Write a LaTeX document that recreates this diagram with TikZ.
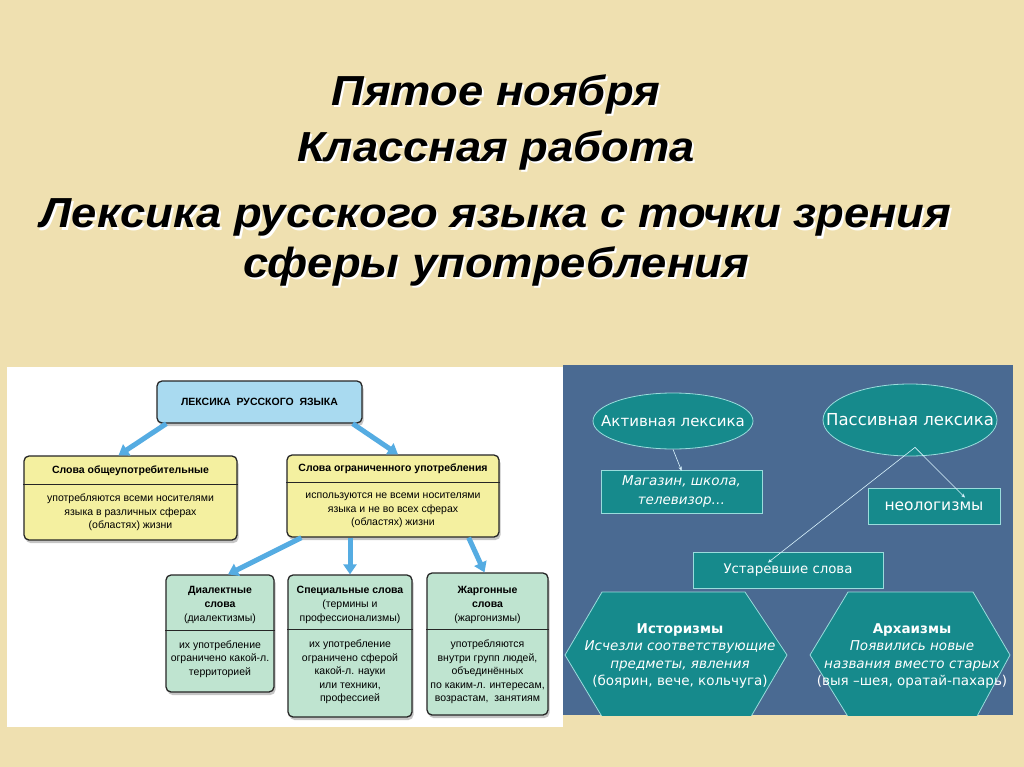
\documentclass[tikz,border=0pt]{standalone}
\usepackage{fontspec}
\setmainfont{Liberation Sans}
\newfontfamily\tfont[FakeStretch=1.08]{Liberation Sans}
\newfontfamily\rfont{DejaVu Sans}
\usetikzlibrary{arrows.meta,shapes.geometric,shadows,calc}
\definecolor{bgc}{HTML}{EFE0B0}
\definecolor{panelblue}{HTML}{4A6A92}
\definecolor{tealc}{HTML}{168A8C}
\definecolor{tealb}{HTML}{9ADCDC}
\definecolor{lblue}{HTML}{A9DAF0}
\definecolor{lyellow}{HTML}{F4F0A0}
\definecolor{lgreen}{HTML}{BFE4D0}
\definecolor{arrowblue}{HTML}{55ACE2}
\tikzset{
  titletext/.style={font=\tfont\bfseries\itshape\fontsize{42}{50}\selectfont, anchor=base, inner sep=0},
  lbox/.style={draw=black!85, line width=1.3pt, rounded corners=5pt, inner sep=0,
     drop shadow={opacity=0.45, shadow xshift=1.5pt, shadow yshift=-3pt}},
  ltext/.style={font=\fontsize{10.5}{13.6}\selectfont, align=center, inner sep=0},
  lhead/.style={font=\bfseries\fontsize{10.5}{13.6}\selectfont, align=center, inner sep=0},
  divline/.style={draw=black!85, line width=0.9pt},
  larrow/.style={draw=arrowblue, line width=5pt, -{Triangle[width=13pt,length=10pt]}},
  tealshape/.style={fill=tealc, draw=tealb, line width=0.8pt},
  rtext/.style={text=white, font=\rfont\fontsize{13.5}{17.5}\selectfont, align=center, inner sep=0},
  rarrow/.style={draw=white!85!cyan, line width=0.6pt, -{Stealth[length=4pt,width=3.5pt]}}
}
\begin{document}
\begin{tikzpicture}[x=1pt,y=-1pt]
\useasboundingbox (0,0) rectangle (1024,767);
\fill[bgc] (0,0) rectangle (1024,767);
% title
\node[titletext, text=white] (t1s) at (498,108) {Пятое ноября};
\node[titletext] (t1) at (496,106) {Пятое ноября};
\node[titletext, text=white] (t2s) at (498,164) {Классная работа};
\node[titletext] (t2) at (496,162) {Классная работа};
\node[titletext, text=white] (t3s) at (498,230) {Лексика русского языка с точки зрения};
\node[titletext] (t3) at (496,228) {Лексика русского языка с точки зрения};
\node[titletext, text=white] (t4s) at (498,279) {сферы употребления};
\node[titletext] (t4) at (496,277) {сферы употребления};
% panels
\fill[white] (7,367) rectangle (563,727);
\fill[panelblue] (563,365) rectangle (1013,715);
% left diagram boxes
\node[lbox, fill=lblue, minimum width=205pt, minimum height=42pt] (top) at (259.5,402) {};
\node[lhead] (topt) at (top.center) {ЛЕКСИКА\ \ РУССКОГО\ \ ЯЗЫКА};
\node[lbox, fill=lyellow, minimum width=213pt, minimum height=84pt] (gen) at (130.5,498) {};
\node[lbox, fill=lyellow, minimum width=212pt, minimum height=82pt] (lim) at (393,496) {};
\node[lbox, fill=lgreen, minimum width=108pt, minimum height=117pt] (dial) at (220,633.5) {};
\node[lbox, fill=lgreen, minimum width=124pt, minimum height=142pt] (spec) at (350,646) {};
\node[lbox, fill=lgreen, minimum width=121pt, minimum height=142pt] (jarg) at (487.5,644) {};
% dividers
\draw[divline] ($(gen.north west)+(0,29)$) -- ($(gen.north east)+(0,29)$);
\draw[divline] ($(lim.north west)+(0,28)$) -- ($(lim.north east)+(0,28)$);
\draw[divline] ($(dial.north west)+(0,56)$) -- ($(dial.north east)+(0,56)$);
\draw[divline] ($(spec.north west)+(0,55)$) -- ($(spec.north east)+(0,55)$);
\draw[divline] ($(jarg.north west)+(0,57)$) -- ($(jarg.north east)+(0,57)$);
% texts
\node[lhead] (genh) at (130.5,471) {Слова общеупотребительные};
\node[ltext] (genb) at (130.5,512.5) {употребляются всеми носителями\\языка в различных сферах\\(областях) жизни};
\node[lhead] (limh) at (393,469) {Слова ограниченного употребления};
\node[ltext] (limb) at (393,510.5) {используются не всеми носителями\\языка и не во всех сферах\\(областях) жизни};
\node[ltext] (dialh) at (220,605) {\bfseries Диалектные\\\bfseries слова\\(диалектизмы)};
\node[ltext] (dialb) at (220,659) {их употребление\\ограничено какой-л.\\территорией};
\node[ltext] (spech) at (350,605) {\bfseries Специальные слова\\(термины и\\профессионализмы)};
\node[ltext] (specb) at (350,672) {их употребление\\ограничено сферой\\какой-л. науки\\или техники,\\профессией};
\node[ltext] (jargh) at (487.5,605) {\bfseries Жаргонные\\\bfseries слова\\(жаргонизмы)};
\node[ltext] (jargb) at (487.5,672) {употребляются\\внутри групп людей,\\объединённых\\по каким-л. интересам,\\возрастам,\ \ занятиям};
% left arrows
\draw[larrow] ($(top.south west)+(10,0)$) -- ($(gen.north)+(-12,0)$);
\draw[larrow] ($(top.south east)+(-10,0)$) -- ($(lim.north)+(5,0)$);
\draw[larrow] ($(lim.south west)+(15,0)$) -- ($(dial.north)+(8,0)$);
\draw[larrow] ($(lim.south)+(-43,0)$) -- (spec.north);
\draw[larrow] ($(lim.south east)+(-31,0)$) -- ($(jarg.north)+(-3,0)$);
% right diagram
\node[ellipse, tealshape, minimum width=160pt, minimum height=56pt, inner sep=0] (act) at (673,421) {};
\node[rtext, font=\rfont\fontsize{15}{18}\selectfont] (actt) at (act.center) {Активная лексика};
\node[ellipse, tealshape, minimum width=174pt, minimum height=72pt, inner sep=0] (pas) at (910,420) {};
\node[rtext, font=\rfont\fontsize{16.5}{18}\selectfont] (past) at (pas.center) {Пассивная лексика};
\node[tealshape, minimum width=161pt, minimum height=43pt, inner sep=0] (mag) at (681.5,491.5) {};
\node[rtext, font=\rfont\itshape\fontsize{13.5}{19}\selectfont] (magt) at (mag.center) {Магазин, школа,\\телевизор…};
\node[tealshape, minimum width=132pt, minimum height=36pt, inner sep=0] (neo) at (934,506) {};
\node[rtext, font=\rfont\fontsize{15.5}{18}\selectfont] (neot) at (neo.center) {неологизмы};
\node[tealshape, minimum width=190pt, minimum height=36pt, inner sep=0] (ust) at (788,570) {};
\node[rtext, font=\rfont\fontsize{13.3}{18}\selectfont] (ustt) at (ust.center) {Устаревшие слова};
\begin{scope}
\clip (563,365) rectangle (1013,715);
\filldraw[tealshape] (602,592) -- (745,592) -- (787,655) -- (749,720) -- (604,720) -- (565,655) -- cycle;
\filldraw[tealshape] (848,592) -- (973,592) -- (1010,655) -- (975,720) -- (850,720) -- (810,655) -- cycle;
\end{scope}
\node[rtext] (hist) at (680,656) {{\bfseries Историзмы}\\{\itshape Исчезли соответствующие}\\{\itshape предметы, явления}\\(боярин, вече, кольчуга)};
\node[rtext] (arch) at (912,656) {{\bfseries Архаизмы}\\{\itshape Появились новые}\\{\itshape названия вместо старых}\\(выя –шея, оратай-пахарь)};
% right arrows
\draw[rarrow] (act.south) -- ([yshift=-1pt]mag.north);
\draw[rarrow] ([xshift=5pt,yshift=9pt]pas.south) -- ([xshift=31pt,yshift=-10pt]neo.north);
\draw[rarrow] ([xshift=5pt,yshift=9pt]pas.south) -- ([xshift=-20pt,yshift=-11pt]ust.north);
\end{tikzpicture}
\end{document}
